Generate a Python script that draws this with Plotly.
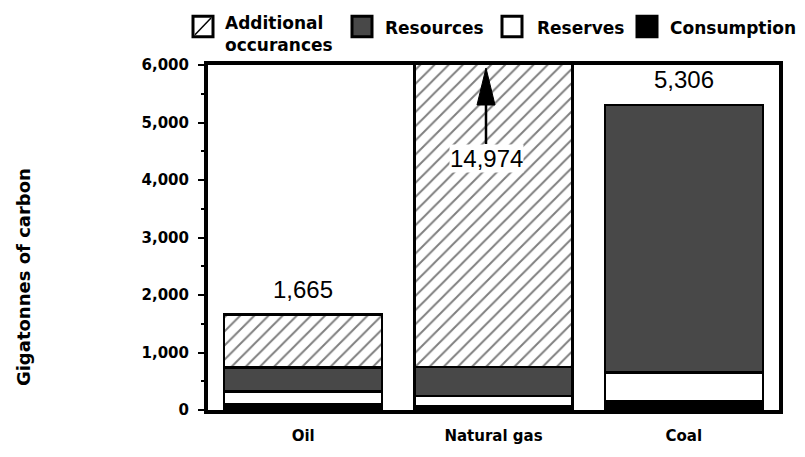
import plotly.graph_objects as go

# Values (Gt of carbon)
fuels = ['Oil', 'Natural gas', 'Coal']
consumption = [100, 70, 150]
reserves = [220, 175, 500]
resources = [420, 500, 4656]
additional = [925, 14229, 0]
totals = [1665, 14974, 5306]

legend_names = ['Additional<br>occurances', 'Resources', 'Reserves', 'Consumption']

W, H = 805, 457
# plot area edges, in pixels
PL, PR, PT, PB = 208, 779, 65, 418
PW, PH = PR - PL, PB - PT

BOLD = 'DejaVu Sans'
NUM = 'Liberation Sans'
DARK = '#484848'


def px(x):
    # pixel x -> paper coordinate
    return (x - PL) / PW


def py(y):
    # pixel y -> paper coordinate
    return (PB - y) / PH


fig = go.Figure()
outline = dict(color='black', width=2.5)
fig.add_trace(go.Bar(x=fuels, y=consumption, name='Consumption',
                     marker=dict(color='black', line=outline)))
fig.add_trace(go.Bar(x=fuels, y=reserves, name='Reserves',
                     marker=dict(color='white', line=outline)))
fig.add_trace(go.Bar(x=fuels, y=resources, name='Resources',
                     marker=dict(color=DARK, line=outline)))
fig.add_trace(go.Bar(x=fuels, y=additional, name='Additional occurances',
                     marker=dict(color='white', line=outline,
                                 pattern=dict(shape='/', fgcolor='black', bgcolor='white',
                                              size=10, solidity=0.2))))

# total labels above the bars (gas goes off the chart, gets an arrow)
for fuel, tot in zip(fuels, totals):
    if tot > 6000:
        fig.add_annotation(x=fuel, y=6000, text=f'{tot:,}', showarrow=True,
                           arrowhead=0, arrowwidth=2.5, arrowcolor='black',
                           ax=0, ay=93, standoff=40, xshift=-7.5,
                           bgcolor='white', borderpad=0,
                           font=dict(family=NUM, size=24, color='black'))
        # narrow arrow head
        fig.add_shape(type='path', xref='x', yref='y', xsizemode='pixel', ysizemode='pixel',
                      xanchor=fuels.index(fuel), yanchor=6000,
                      path='M-16.5,-40 L1.5,-40 L-7.5,-3 Z',
                      fillcolor='black', line=dict(color='black', width=1))
    else:
        fig.add_annotation(x=fuel, y=tot, text=f'{tot:,}', showarrow=False,
                           yshift=25, font=dict(family=NUM, size=24, color='black'))

# legend drawn by hand so the boxes are the right size
box_x = [193, 352, 502, 637]
text_x = [223, 383, 535, 668]
fills = ['white', DARK, 'white', 'black']
for i, name in enumerate(legend_names):
    fig.add_shape(type='rect', xref='paper', yref='paper',
                  x0=px(box_x[i]), x1=px(box_x[i] + 20), y0=py(36), y1=py(15),
                  fillcolor=fills[i], line=dict(color='black', width=3))
    fig.add_annotation(xref='paper', yref='paper', x=px(text_x[i]),
                       y=py(33 if i == 0 else 27), xanchor='left', yanchor='middle',
                       text=f'<b>{name}</b>', showarrow=False, align='left',
                       font=dict(family=BOLD, size=17, color='black'))
fig.add_shape(type='line', xref='paper', yref='paper',
              x0=px(box_x[0] + 2), x1=px(box_x[0] + 18), y0=py(34), y1=py(17),
              line=dict(color='black', width=1.5))

# y title
fig.add_annotation(xref='paper', yref='paper', x=px(23), y=py(282), textangle=-90,
                   xanchor='center', yanchor='middle',
                   text='<b>Gigatonnes of carbon</b>', showarrow=False,
                   font=dict(family=BOLD, size=18, color='black'))

fig.update_layout(
    width=W, height=H,
    margin=dict(l=PL, r=W - PR, t=PT, b=H - PB),
    barmode='stack', bargap=0.17,
    showlegend=False,
    paper_bgcolor='white', plot_bgcolor='white',
)
fig.update_xaxes(showline=True, linewidth=4, linecolor='black', mirror=True,
                 ticks='', showgrid=False, ticklabelstandoff=9,
                 tickprefix='<b>', ticksuffix='</b>',
                 tickfont=dict(family=BOLD, size=15, color='black'))
fig.update_yaxes(range=[0, 6000], showline=True, linewidth=4, linecolor='black',
                 mirror=True, showgrid=False, zeroline=False,
                 tickmode='linear', dtick=1000, tickformat=',',
                 ticks='outside', ticklen=6, tickwidth=2, tickcolor='black',
                 ticklabelstandoff=6, tickprefix='<b>', ticksuffix='</b>',
                 minor=dict(dtick=500, ticks='outside', ticklen=3, tickwidth=2,
                            tickcolor='black', showgrid=False),
                 tickfont=dict(family=BOLD, size=15, color='black'))

# drop the page's default body margin so the figure sits at the top-left corner
fig.write_html('out.html', config={'displayModeBar': False},
               post_script="document.body.style.margin='0';document.body.style.overflow='hidden';")
